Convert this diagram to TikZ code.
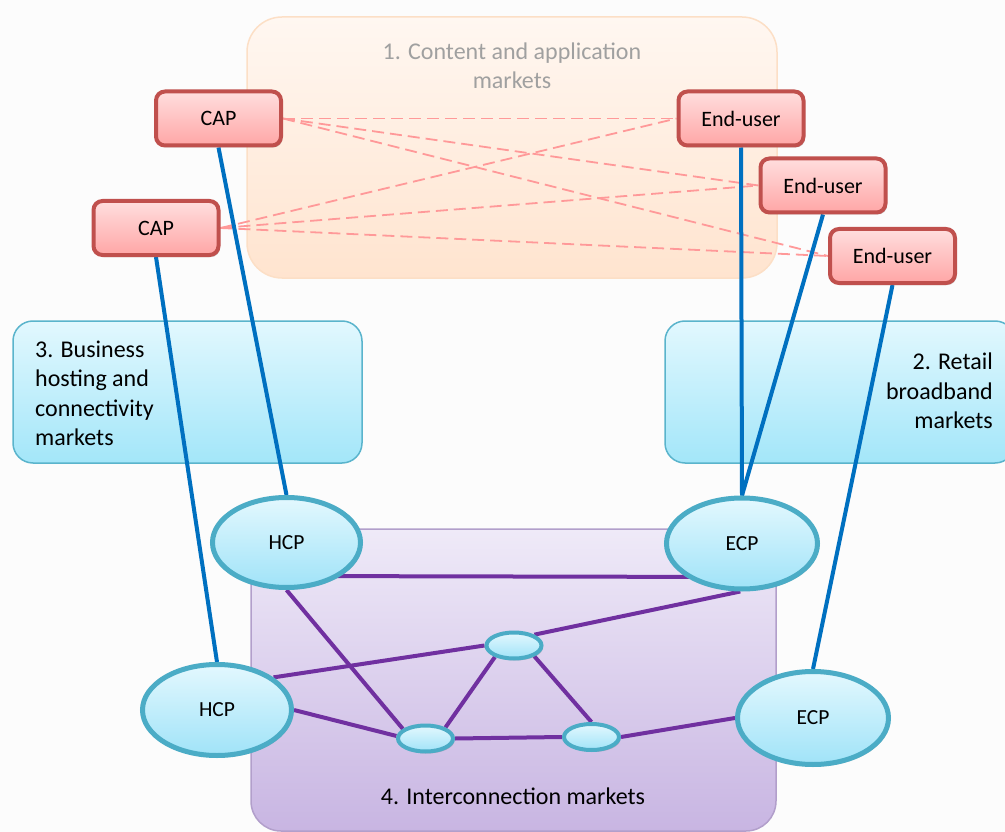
\documentclass[tikz,border=0pt]{standalone}
\usepackage{fontspec}
\setmainfont{Carlito}
\usetikzlibrary{calc,shadows,shapes.geometric}
\pgfdeclarelayer{bg}
\pgfdeclarelayer{edges}
\pgfsetlayers{bg,edges,main}
\definecolor{pagebg}{HTML}{FCFCFC}
\definecolor{capdraw}{HTML}{C0504D}
\definecolor{captop}{HTML}{FFDEDE}
\definecolor{capbot}{HTML}{FFA6A6}
\definecolor{elldraw}{HTML}{4BACC6}
\definecolor{elltop}{HTML}{E3F8FE}
\definecolor{ellbot}{HTML}{A0E3F8}
\definecolor{boxdraw}{HTML}{5AB4CC}
\definecolor{boxtop}{HTML}{E2F8FE}
\definecolor{boxbot}{HTML}{A3E6F9}
\definecolor{linkblue}{HTML}{0070C0}
\definecolor{ixpurple}{HTML}{7030A0}
\definecolor{dashpink}{HTML}{FF9999}
\definecolor{orgtop}{HTML}{FFF7F1}
\definecolor{orgbot}{HTML}{FFE4CF}
\definecolor{orgdraw}{HTML}{FCDFC6}
\definecolor{purtop}{HTML}{EFEAF8}
\definecolor{purbot}{HTML}{C8B5E2}
\definecolor{purdraw}{HTML}{B29FCB}
\definecolor{titlegray}{HTML}{A0A0A0}
\tikzset{
  softshadow/.style={drop shadow={shadow xshift=1.5pt, shadow yshift=-2pt, opacity=.25, fill=black!70}},
  actor/.style={rectangle, rounded corners=9pt, draw=capdraw, line width=4pt,
    top color=captop, bottom color=capbot, minimum width=125pt, minimum height=54pt,
    inner sep=0pt, font=\fontsize{22}{26}\selectfont, softshadow},
  provider/.style={ellipse, draw=elldraw, line width=5pt, top color=elltop, bottom color=ellbot,
    inner sep=0pt, font=\fontsize{21.5}{26}\selectfont, softshadow},
  hub/.style={ellipse, draw=elldraw, line width=4pt, top color=elltop, bottom color=ellbot,
    inner sep=0pt, minimum width=55pt, minimum height=26pt, softshadow},
  marketblue/.style={rectangle, rounded corners=20pt, draw=boxdraw, line width=1.5pt,
    top color=boxtop, bottom color=boxbot, inner sep=0pt, minimum width=349pt, minimum height=142pt},
  regiontext/.style={inner sep=0pt, font=\fontsize{24}{29.5}\selectfont},
  bluelink/.style={draw=linkblue, line width=4pt},
  ixlink/.style={draw=ixpurple, line width=4pt},
  pinklink/.style={draw=dashpink, line width=1.8pt, dash pattern=on 12pt off 6pt},
}
\begin{document}
\begin{tikzpicture}[x=1pt, y=-1pt]
\useasboundingbox (0,0) rectangle (1005,832);

% page and region boxes
\begin{pgfonlayer}{bg}
\fill[pagebg] (0,0) rectangle (1005,832);
\begin{scope}
\clip (0,0) rectangle (1005,832);
\node[rectangle, rounded corners=35pt, draw=orgdraw, line width=1.5pt, top color=orgtop, bottom color=orgbot,
  minimum width=530pt, minimum height=261pt, inner sep=0pt] (content) at (512,147.5) {};
\node[marketblue] (business) at (187.5,392) {};
\node[marketblue, minimum width=350pt] (retail) at (840,392) {};
\node[rectangle, rounded corners=30pt, draw=purdraw, line width=1.5pt, top color=purtop, bottom color=purbot,
  minimum width=525pt, minimum height=302pt, inner sep=0pt] (interconnect) at (513.5,680) {};
\end{scope}
\end{pgfonlayer}

\node[regiontext, text=titlegray, align=center, anchor=base] (t1) at (512,89) {1. Content and application\\markets};
\node[regiontext, align=left, anchor=base west] (t3) at (35,445.5) {3. Business\\hosting and\\connectivity\\markets};
\node[regiontext, align=right, anchor=base east] (t2) at (993,428.5) {2. Retail\\broadband\\markets};
\node[regiontext, anchor=base] (t4) at (513,804) {4. Interconnection markets};

% actors
\node[actor] (cap1) at (218.5,118.5) {CAP};
\node[actor] (cap2) at (156,228) {CAP};
\node[actor] (eu1) at (741,118.5) {End-user};
\node[actor] (eu2) at (823,185.5) {End-user};
\node[actor] (eu3) at (892.5,256) {End-user};

% providers
\node[provider, minimum width=148pt, minimum height=90pt] (hcp1) at (286.5,542.5) {HCP};
\node[provider, minimum width=151pt, minimum height=91pt] (ecp1) at (742,543.5) {ECP};
\node[provider, minimum width=149pt, minimum height=91pt] (hcp2) at (217,710) {HCP};
\node[provider, minimum width=151pt, minimum height=93pt] (ecp2) at (813,718) {ECP};
\node[hub] (s1) at (514,645.5) {};
\node[hub] (s2) at (425.5,738.5) {};
\node[hub] (s3) at (591.5,737) {};

\begin{pgfonlayer}{edges}
% dashed content relations
\draw[pinklink] (cap1.east) -- (eu1.west);
\draw[pinklink] (cap1.east) -- (eu2.west);
\draw[pinklink] (cap1.east) -- (eu3.west);
\draw[pinklink] (cap2.east) -- (eu1.west);
\draw[pinklink] (cap2.east) -- (eu2.west);
\draw[pinklink] (cap2.east) -- (eu3.west);
% access links
\draw[bluelink] (cap1.south) -- (hcp1.north);
\draw[bluelink] (cap2.south) -- (hcp2.north);
\draw[bluelink] (eu1.south) -- (ecp1.north);
\draw[bluelink] (eu2.south) -- (ecp1.north);
\draw[bluelink] (eu3.south) -- (ecp2.north);
% interconnection links
\draw[ixlink] ($(hcp1.center)+(0,33.5)$) -- ($(ecp1.center)+(0,33.5)$);
\draw[ixlink] (hcp1.south) -- (s2.157);
\draw[ixlink] (hcp2.30) -- (s1.180);
\draw[ixlink] (s1.28) -- (ecp1.268);
\draw[ixlink] (hcp2.east) -- (s2.175);
\draw[ixlink] (s2.29) -- (s1.211);
\draw[ixlink] (s1.332) -- (s3.north);
\draw[ixlink] (s2.east) -- (s3.west);
\draw[ixlink] (s3.east) -- (ecp2.west);
\end{pgfonlayer}
\end{tikzpicture}
\end{document}
